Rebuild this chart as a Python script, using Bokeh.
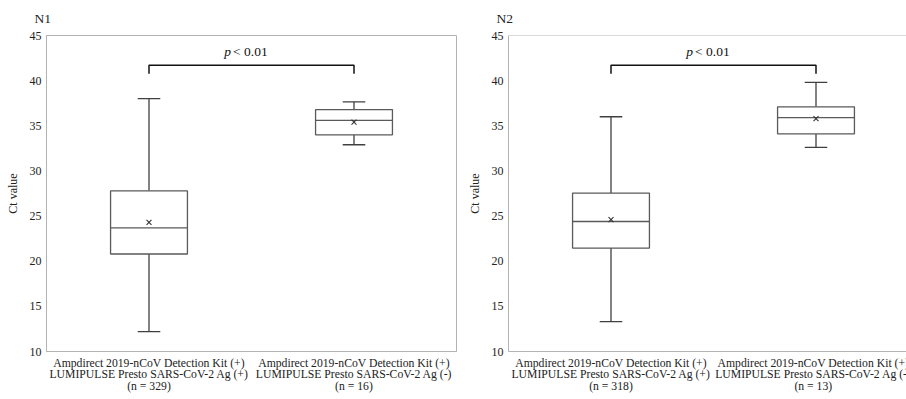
from bokeh.plotting import figure
from bokeh.layouts import row
from bokeh.models import FixedTicker, Span, Range1d
from bokeh.core.properties import value
from bokeh.embed import file_html
from bokeh.resources import INLINE

FONT = "Liberation Serif"

# ---- data ----
positions = [0.5, 1.5]
n1_lower = [12.2, 32.9]
n1_q1 = [20.8, 34.0]
n1_median = [23.7, 35.6]
n1_q3 = [27.8, 36.8]
n1_upper = [38.0, 37.65]
n1_mean = [24.3, 35.4]
n1_labels = ["Ampdirect 2019-nCoV Detection Kit (+)\nLUMIPULSE Presto SARS-CoV-2 Ag (+)\n(n = 329)",
             "Ampdirect 2019-nCoV Detection Kit (+)\nLUMIPULSE Presto SARS-CoV-2 Ag (-)\n(n = 16)"]

n2_lower = [13.3, 32.6]
n2_q1 = [21.45, 34.1]
n2_median = [24.4, 35.9]
n2_q3 = [27.55, 37.1]
n2_upper = [36.0, 39.8]
n2_mean = [24.6, 35.8]
n2_labels = ["Ampdirect 2019-nCoV Detection Kit (+)\nLUMIPULSE Presto SARS-CoV-2 Ag (+)\n(n = 318)",
             "Ampdirect 2019-nCoV Detection Kit (+)\nLUMIPULSE Presto SARS-CoV-2 Ag (-)\n(n = 13)"]

bracket_top = 41.7
bracket_end = 40.75
p_text_y = 43.2
y_ticks = [10, 15, 20, 25, 30, 35, 40, 45]

BOX_W = 0.375
CAP_W = 0.11
AXIS_GRAY = "#b3b3b3"
BOX_COLOR = "#5a5a5a"
WHISK_COLOR = "#404040"


def panel(title, lower, q1, med, q3, upper, mean, labels, x_end, mb_left, mb_right, frame_w, full_outline):
    p = figure(frame_width=frame_w, frame_height=316,
               x_range=Range1d(0, x_end), y_range=Range1d(10, 45),
               output_backend="svg", toolbar_location=None,
               min_border_left=mb_left, min_border_right=mb_right,
               min_border_top=35, min_border_bottom=48)
    p.background_fill_color = "white"
    p.border_fill_color = "white"
    p.xgrid.visible = False
    p.ygrid.visible = False
    if full_outline:
        p.outline_line_color = AXIS_GRAY
    else:
        p.outline_line_color = None
        p.add_layout(Span(location=45, dimension="width", line_color=AXIS_GRAY, line_width=1))

    p.title.text = title
    p.title.align = "left"
    p.title.vertical_align = "top"
    p.title.offset = -12
    p.title.standoff = 16
    p.title.text_font = FONT
    p.title.text_font_size = "13.5px"
    p.title.text_font_style = "normal"
    p.title.text_color = "#222222"

    # y axis
    p.yaxis.ticker = FixedTicker(ticks=y_ticks)
    p.yaxis.axis_label = "Ct value"
    p.yaxis.axis_label_text_font = FONT
    p.yaxis.axis_label_text_font_size = "12px"
    p.yaxis.axis_label_text_font_style = "normal"
    p.yaxis.axis_label_text_color = "#222222"
    p.yaxis.axis_label_standoff = 7
    p.yaxis.major_label_text_font = FONT
    p.yaxis.major_label_text_font_size = "12px"
    p.yaxis.major_label_text_color = "#222222"
    p.yaxis.major_label_standoff = 5
    p.yaxis.major_tick_out = 0
    p.yaxis.major_tick_in = 0
    p.yaxis.minor_tick_out = 0
    p.yaxis.minor_tick_in = 0
    p.yaxis.axis_line_color = AXIS_GRAY

    # x axis
    p.xaxis.ticker = FixedTicker(ticks=positions)
    p.xaxis.major_label_overrides = {positions[i]: labels[i] for i in range(len(positions))}
    p.xaxis.major_label_text_font = FONT
    p.xaxis.major_label_text_font_size = "11.7px"
    p.xaxis.major_label_text_color = "#222222"
    p.xaxis.major_label_text_line_height = 0.9
    p.xaxis.major_label_standoff = 5
    p.xaxis.major_tick_out = 0
    p.xaxis.major_tick_in = 0
    p.xaxis.minor_tick_out = 0
    p.xaxis.minor_tick_in = 0
    p.xaxis.axis_line_color = AXIS_GRAY

    left_edge = [x - BOX_W / 2 for x in positions]
    right_edge = [x + BOX_W / 2 for x in positions]
    cap_l = [x - CAP_W / 2 for x in positions]
    cap_r = [x + CAP_W / 2 for x in positions]

    # whiskers
    p.segment(x0=positions, y0=q3, x1=positions, y1=upper, line_color=WHISK_COLOR, line_width=1.3)
    p.segment(x0=positions, y0=q1, x1=positions, y1=lower, line_color=WHISK_COLOR, line_width=1.3)
    p.segment(x0=cap_l, y0=upper, x1=cap_r, y1=upper, line_color=WHISK_COLOR, line_width=1.3)
    p.segment(x0=cap_l, y0=lower, x1=cap_r, y1=lower, line_color=WHISK_COLOR, line_width=1.3)
    # boxes
    p.quad(left=left_edge, right=right_edge, bottom=q1, top=q3,
           fill_color="white", line_color=BOX_COLOR, line_width=1.3)
    p.segment(x0=left_edge, y0=med, x1=right_edge, y1=med, line_color=BOX_COLOR, line_width=1.3)
    # means
    p.scatter(x=positions, y=mean, marker="x", size=7, line_color="#333333", line_width=1.1)

    # significance bracket
    bx = [positions[0], positions[0], positions[1], positions[1]]
    by = [bracket_end, bracket_top, bracket_top, bracket_end]
    p.line(x=bx, y=by, line_color="#111111", line_width=1.5)
    mid = (positions[0] + positions[1]) / 2
    p.text(x=[mid - 0.116], y=[p_text_y], text=["p"], text_font=value(FONT),
           text_font_style="italic", text_font_size="13.5px", text_align="center",
           text_baseline="middle", text_color="#111111")
    p.text(x=[mid - 0.09], y=[p_text_y], text=["< 0.01"], text_font=value(FONT),
           text_font_size="13.5px", text_align="left",
           text_baseline="middle", text_color="#111111")
    return p


p1 = panel("N1", n1_lower, n1_q1, n1_median, n1_q3, n1_upper, n1_mean, n1_labels,
           2.0, 46, 8, 410, True)
p2 = panel("N2", n2_lower, n2_q1, n2_median, n2_q3, n2_upper, n2_mean, n2_labels,
           403 / 205, 39, 0, 403, False)

layout = row(p1, p2, spacing=0)
open("out.html", "w").write(file_html(layout, INLINE))
